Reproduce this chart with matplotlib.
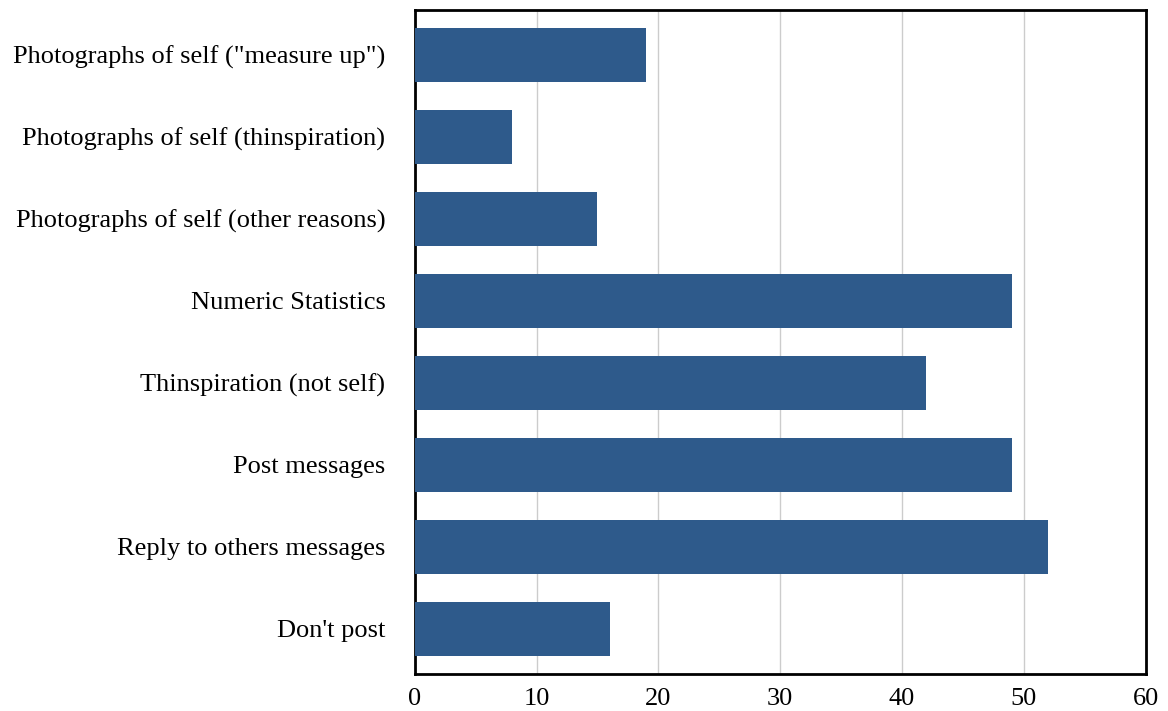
import matplotlib.pyplot as plt
import numpy as np

categories = [
    'Photographs of self ("measure up")',
    'Photographs of self (thinspiration)',
    'Photographs of self (other reasons)',
    'Numeric Statistics',
    'Thinspiration (not self)',
    'Post messages',
    'Reply to others messages',
    "Don't post",
]
values = [19, 8, 15, 49, 42, 49, 52, 16]
xticks = [0, 10, 20, 30, 40, 50, 60]

plt.rcParams['font.family'] = ['Liberation Serif', 'DejaVu Serif']

fig = plt.figure(figsize=(11.68, 7.11), dpi=100)
ax = fig.add_axes([0.355, 0.052, 0.626, 0.934])

y = np.arange(len(categories))
ax.barh(y, values, height=0.66, color='#2E5A8B', zorder=3)
ax.set_yticks(y)
ax.set_yticklabels(categories)
ax.set_ylim(len(categories) - 0.45, -0.55)
ax.set_xlim(0, 60)
ax.set_xticks(xticks)
ax.tick_params(length=0, labelsize=19)
ax.tick_params(axis='y', pad=21)
ax.tick_params(axis='x', pad=10)
ax.grid(axis='x', color='#cccccc', linewidth=1, zorder=0)
for s in ax.spines.values():
    s.set_linewidth(2)
    s.set_color('black')

fig.savefig('out.png', dpi=100)
